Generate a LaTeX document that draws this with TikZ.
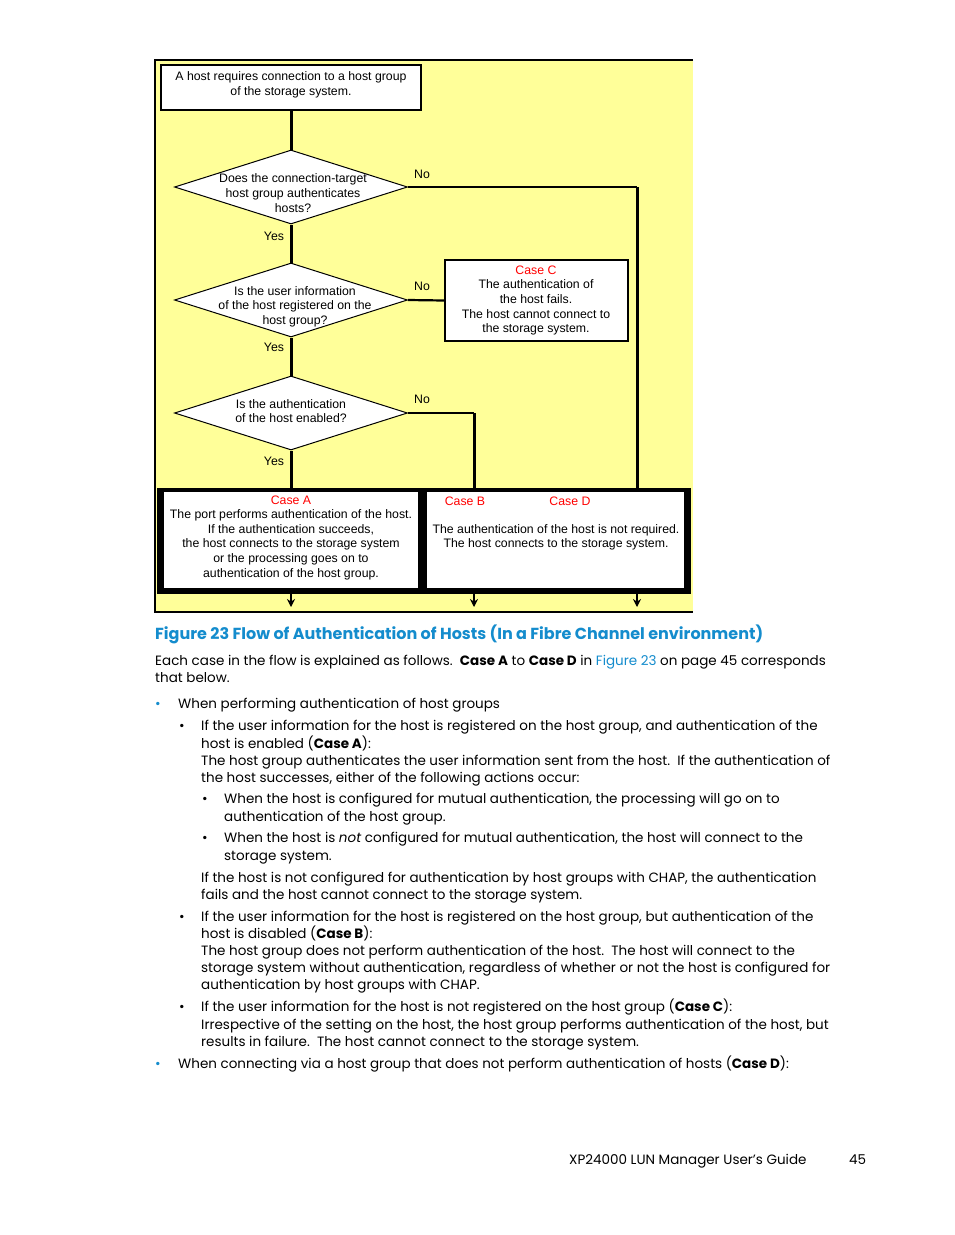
\documentclass[tikz,border=0pt]{standalone}
\usepackage{fontspec}
\setmainfont{Poppins}
\newfontfamily\diagfont{Liberation Sans}
\usetikzlibrary{shapes.geometric,arrows.meta}
\definecolor{hpblue}{RGB}{20,140,205}
\definecolor{flowyellow}{RGB}{255,255,153}
\definecolor{casered}{RGB}{255,0,0}
\newcounter{bodyln}
\newcommand\bodyline[3]{\stepcounter{bodyln}\node[body] (bl\thebodyln) at (#1,#2+1) {#3};}
\begin{document}
\begin{tikzpicture}[x=1pt,y=-1pt,
  body/.style={anchor=base west, inner sep=0, font=\fontsize{13.5}{16}\selectfont},
  dtxt/.style={font=\diagfont\fontsize{12.3}{14.6}\selectfont, align=center, inner sep=0},
  redtxt/.style={dtxt, text=casered},
  whitebox/.style={draw=black, line width=1.5pt, fill=white, inner sep=0},
  dia/.style={diamond, draw=black, line width=1pt, fill=white, inner sep=0, minimum width=233pt, minimum height=74pt},
  mainline/.style={line width=3pt},
  noline/.style={line width=2.2pt},
  downarrow/.style={line width=2pt, -{Stealth[length=8pt,width=8pt]}},
]
\useasboundingbox (0,0) rectangle (954,1235);
\fill[white] (0,0) rectangle (954,1235);

% yellow flow area
\fill[flowyellow] (155,60) rectangle (693,612);
\draw[line width=1.5pt] (693,60) -- (155,60) -- (155,612) -- (693,612);

% top box
\node[whitebox, minimum width=260pt, minimum height=45pt] (top) at (291,87.5) {};
\node[dtxt] (topt) at (291,85) {A host requires connection to a host group\\of the storage system.};

% diamonds
\node[dia] (d1) at (291,187) {};
\node[dtxt] (d1t) at (293,193) {Does the connection-target\\host group authenticates\\hosts?};
\node[dia] (d2) at (291,300) {};
\node[dtxt] (d2t) at (295,306.5) {Is the user information\\of the host registered on the\\host group?};
\node[dia] (d3) at (291,413) {};
\node[dtxt] (d3t) at (291,411) {Is the authentication\\of the host enabled?};

% case C box
\node[whitebox, minimum width=183pt, minimum height=81pt] (cc) at (536.5,300.5) {};
\node[dtxt] (cct) at (536,300.5) {\textcolor{casered}{Case C}\\The authentication of\\the host fails.\\The host cannot connect to\\the storage system.};

% bottom frame
\node[fill=black, inner sep=0, minimum width=534pt, minimum height=106pt, anchor=north west] (frame) at (157,488) {};
\node[fill=white, inner sep=0, minimum width=254pt, minimum height=96pt, anchor=north west] (ca) at (164,492) {};
\node[fill=white, inner sep=0, minimum width=257pt, minimum height=96pt, anchor=north west] (cb) at (427,492) {};
\node[dtxt] (cat) at (291,537.5) {\textcolor{casered}{Case A}\\The port performs authentication of the host.\\If the authentication succeeds,\\the host connects to the storage system\\or the processing goes on to\\authentication of the host group.};
\node[redtxt] (cbl) at (465,501) {Case B};
\node[redtxt] (cdl) at (570,501) {Case D};
\node[dtxt] (cbt) at (556,537.5) {The authentication of the host is not required.\\The host connects to the storage system.};

% labels
\node[dtxt] (no1) at (422,174) {No};
\node[dtxt] (no2) at (422,286) {No};
\node[dtxt] (no3) at (422,399) {No};
\node[dtxt] (yes1) at (274,236.5) {Yes};
\node[dtxt] (yes2) at (274,347.5) {Yes};
\node[dtxt] (yes3) at (274,461.5) {Yes};

% connectors
\coordinate (c1) at (637,187);
\coordinate (c3) at (474,413);
\draw[mainline] (top.south) -- (d1.north);
\draw[mainline] (d1.south) -- (d2.north);
\draw[mainline] (d2.south) -- (d3.north);
\draw[mainline] (d3.south) -- (d3.south |- frame.north);
\draw[noline] (d1.east) -- (c1);
\draw[mainline] (c1) -- (c1 |- frame.north);
\draw[noline] (d2.east) -- (cc.west);
\draw[noline] (d3.east) -- (c3);
\draw[mainline] (c3) -- (c3 |- frame.north);
\coordinate (e1) at (291,607);
\coordinate (e2) at (474,607);
\coordinate (e3) at (637,607);
\draw[downarrow] (e1 |- frame.south) -- (e1);
\draw[downarrow] (e2 |- frame.south) -- (e2);
\draw[downarrow] (e3 |- frame.south) -- (e3);

% caption and body
\node[anchor=base west, inner sep=0, text=hpblue, font=\bfseries\fontsize{16}{18}\selectfont] (cap) at (155,639) {Figure 23 Flow of Authentication of Hosts (In a Fibre Channel environment)};
\bodyline{155}{664}{Each case in the flow is explained as follows.\ \ \textbf{Case A} to \textbf{Case D} in \textcolor{hpblue}{Figure 23} on page 45 corresponds}
\bodyline{155}{681}{that below.}
\bodyline{155}{707}{\textcolor{hpblue}{•}}
\bodyline{178}{707}{When performing authentication of host groups}
\bodyline{179}{729}{•}
\bodyline{201}{729}{If the user information for the host is registered on the host group, and authentication of the}
\bodyline{201}{747}{host is enabled (\textbf{Case A}):}
\bodyline{201}{764}{The host group authenticates the user information sent from the host.\ \ If the authentication of}
\bodyline{201}{781}{the host successes, either of the following actions occur:}
\bodyline{202}{802}{•}
\bodyline{224}{802}{When the host is configured for mutual authentication, the processing will go on to}
\bodyline{224}{820}{authentication of the host group.}
\bodyline{202}{841}{•}
\bodyline{224}{841}{When the host is \textit{not} configured for mutual authentication, the host will connect to the}
\bodyline{224}{859}{storage system.}
\bodyline{201}{881}{If the host is not configured for authentication by host groups with CHAP, the authentication}
\bodyline{201}{898}{fails and the host cannot connect to the storage system.}
\bodyline{179}{920}{•}
\bodyline{201}{920}{If the user information for the host is registered on the host group, but authentication of the}
\bodyline{201}{937}{host is disabled (\textbf{Case B}):}
\bodyline{201}{954}{The host group does not perform authentication of the host.\ \ The host will connect to the}
\bodyline{201}{971}{storage system without authentication, regardless of whether or not the host is configured for}
\bodyline{201}{988}{authentication by host groups with CHAP.}
\bodyline{179}{1010}{•}
\bodyline{201}{1010}{If the user information for the host is not registered on the host group (\textbf{Case C}):}
\bodyline{201}{1028}{Irrespective of the setting on the host, the host group performs authentication of the host, but}
\bodyline{201}{1045}{results in failure.\ \ The host cannot connect to the storage system.}
\bodyline{155}{1067}{\textcolor{hpblue}{•}}
\bodyline{178}{1067}{When connecting via a host group that does not perform authentication of hosts (\textbf{Case D}):}
\bodyline{569}{1163}{XP24000 LUN Manager User's Guide}
\bodyline{849}{1163}{45}
\end{tikzpicture}
\end{document}
